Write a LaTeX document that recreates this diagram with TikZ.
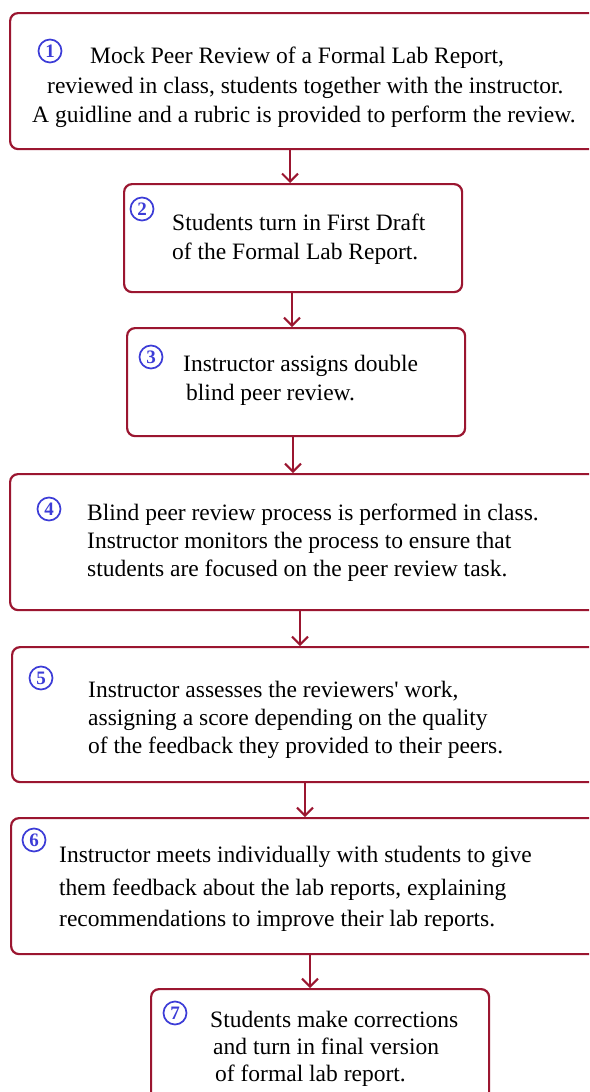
\documentclass[tikz,border=0pt]{standalone}
\usepackage{fontspec}
\setmainfont{Liberation Serif}
\newfontfamily\plainserif{Liberation Serif}
\usetikzlibrary{arrows.meta}
\definecolor{boxred}{RGB}{155,22,48}
\definecolor{numblue}{RGB}{60,60,215}
\tikzset{
  stepbox/.style={draw=boxred, line width=2.2pt, rounded corners=8pt, inner sep=0pt, anchor=north west, fill=white},
  txt/.style={anchor=base west, inner sep=0pt, font=\fontsize{23.5}{28}\selectfont, text=black},
  num/.style={circle, draw=numblue, line width=1.7pt, minimum size=23pt, inner sep=0pt, text=numblue, font=\fontsize{19}{19}\selectfont\bfseries},
  arr/.style={draw=boxred, line width=2pt, -{Straight Barb[length=8pt,width=16pt,line width=2pt]}}
}
\begin{document}
\begin{tikzpicture}[x=1pt,y=-1pt]
\useasboundingbox (0,0) rectangle (589,1092);
\clip (0,0) rectangle (589,1092);
\fill[white] (0,0) rectangle (589,1092);
% boxes
\node[stepbox, minimum width=592pt, minimum height=136pt] (b1) at (9,12) {};
\node[stepbox, minimum width=338pt, minimum height=108pt] (b2) at (123,183) {};
\node[stepbox, minimum width=338pt, minimum height=108pt] (b3) at (126,327) {};
\node[stepbox, minimum width=592pt, minimum height=136pt] (b4) at (9,473) {};
\node[stepbox, minimum width=590pt, minimum height=135pt] (b5) at (11,646) {};
\node[stepbox, minimum width=591pt, minimum height=136pt] (b6) at (10,817) {};
\node[stepbox, minimum width=338pt, minimum height=115pt] (b7) at (150,988) {};
% arrow columns
\coordinate (c12) at (290,0);
\coordinate (c23) at (292,0);
\coordinate (c34) at (293,0);
\coordinate (c45) at (300,0);
\coordinate (c56) at (305,0);
\coordinate (c67) at (310,0);
\draw[arr] (b1.south -| c12) -- (b2.north -| c12);
\draw[arr] (b2.south -| c23) -- (b3.north -| c23);
\draw[arr] (b3.south -| c34) -- (b4.north -| c34);
\draw[arr] (b4.south -| c45) -- (b5.north -| c45);
\draw[arr] (b5.south -| c56) -- (b6.north -| c56);
\draw[arr] (b6.south -| c67) -- (b7.north -| c67);
% box 1
\node[num] (n1) at (50,51) {1};
\node[txt] (t1a) at (90,63) {Mock Peer Review of a Formal Lab Report,};
\node[txt] (t1b) at (47,93) {reviewed in class, students together with the instructor.};
\node[txt] (t1c) at (32,122) {A guidline and a rubric is provided to perform the review.};
% box 2
\node[num] (n2) at (142,209) {2};
\node[txt] (t2a) at (172,230) {Students turn in First Draft};
\node[txt] (t2b) at (172,259) {of the Formal Lab Report.};
% box 3
\node[num] (n3) at (151,357) {3};
\node[txt] (t3a) at (183,371) {Instructor assigns double};
\node[txt] (t3b) at (186,400) {blind peer review.};
% box 4
\node[num] (n4) at (49,509) {4};
\node[txt] (t4a) at (87,520) {Blind peer review process is performed in class.};
\node[txt] (t4b) at (87,548) {Instructor monitors the process to ensure that};
\node[txt] (t4c) at (87,576) {students are focused on the peer review task.};
% box 5
\node[num] (n5) at (41,678) {5};
\node[txt] (t5a) at (88,697) {Instructor assesses the reviewers{\plainserif'} work,};
\node[txt] (t5b) at (88,725) {assigning a score depending on the quality};
\node[txt] (t5c) at (88,753) {of the feedback they provided to their peers.};
% box 6
\node[num] (n6) at (34,840) {6};
\node[txt] (t6a) at (59,862) {Instructor meets individually with students to give};
\node[txt] (t6b) at (59,895) {them feedback about the lab reports, explaining};
\node[txt] (t6c) at (59,926) {recommendations to improve their lab reports.};
% box 7
\node[num] (n7) at (175,1013) {7};
\node[txt] (t7a) at (210,1027) {Students make corrections};
\node[txt] (t7b) at (213,1054) {and turn in final version};
\node[txt] (t7c) at (215,1081) {of formal lab report.};
\end{tikzpicture}
\end{document}
